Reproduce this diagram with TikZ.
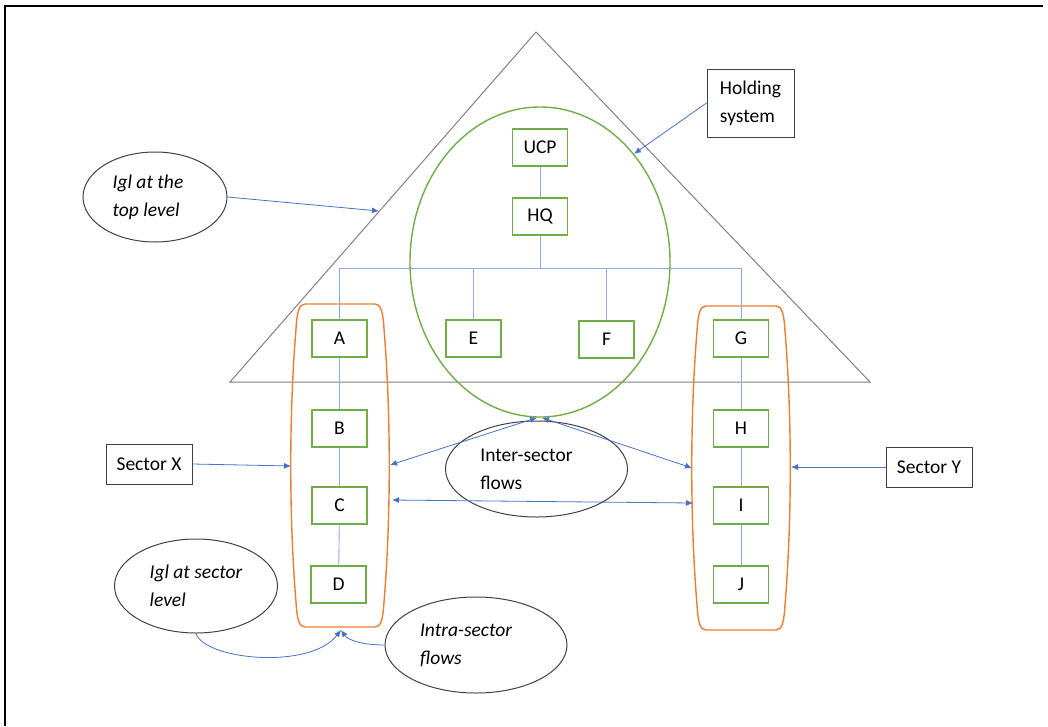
\documentclass[tikz,border=0pt]{standalone}
\usepackage{fontspec}
\setmainfont{Carlito}
\usetikzlibrary{shapes.geometric,arrows.meta}
\definecolor{trigray}{HTML}{808080}
\definecolor{olgray}{HTML}{404040}
\definecolor{grn}{HTML}{70AD47}
\definecolor{org}{HTML}{ED7D31}
\definecolor{treeblue}{HTML}{8FAADC}
\definecolor{arrblue}{HTML}{4472C4}

% rounded, slightly bulging hull around a column of units: centre x, top y, bottom y
\newcommand\drawhull[3]{%
  \draw[hull] ({#1-35},#2) -- ({#1+35},#2)
    .. controls ({#1+41},#2) and ({#1+43},{#2+8}) .. ({#1+44},{#2+25})
    .. controls ({#1+51},{#2+110}) and ({#1+51},{#3-110}) .. ({#1+44},{#3-25})
    .. controls ({#1+43},{#3-8}) and ({#1+41},#3) .. ({#1+35},#3)
    -- ({#1-35},#3)
    .. controls ({#1-41},#3) and ({#1-43},{#3-8}) .. ({#1-44},{#3-25})
    .. controls ({#1-51},{#3-110}) and ({#1-51},{#2+110}) .. ({#1-44},{#2+25})
    .. controls ({#1-43},{#2+8}) and ({#1-41},#2) .. cycle;}

\begin{document}
\begin{tikzpicture}[x=1pt,y=-1pt,
  font=\fontsize{19.5}{28}\selectfont,
  unit/.style={draw=grn,line width=1.4pt,fill=white,minimum width=55pt,minimum height=37pt,inner sep=0pt},
  callout/.style={draw=olgray,line width=1pt,fill=white,inner sep=0pt},
  bubble/.style={ellipse,draw=olgray,line width=1pt,inner sep=0pt},
  bubbletext/.style={align=left,font=\fontsize{19.5}{28}\selectfont\itshape},
  tree/.style={draw=treeblue,line width=0.9pt},
  flow/.style={draw=arrblue,line width=0.8pt,-{Latex[length=7pt,width=6pt]}},
  flowboth/.style={draw=arrblue,line width=0.8pt,{Latex[length=7pt,width=6pt]}-{Latex[length=7pt,width=6pt]}},
  hull/.style={draw=org,line width=1.4pt},
]
\useasboundingbox (0,0) rectangle (1048,726);

% page frame (top and left edges)
\draw[line width=2pt] (5,726) -- (5,6) -- (1043,6);

% group triangle
\draw[trigray,line width=1pt] (536,32) -- (870,382) -- (230,382) -- cycle;
\coordinate (triedge) at (379,211);

% holding system circle
\node[ellipse,draw=grn,line width=1.4pt,minimum width=260pt,minimum height=310pt,inner sep=0pt] (hold) at (540,262) {};

% sector hulls
\drawhull{340}{304}{627}
\drawhull{741}{306}{630}
\coordinate (hullXw) at (291,466);
\coordinate (hullXe) at (390,465);
\coordinate (hullXe2) at (392,500);
\coordinate (hullXs) at (341,630);
\coordinate (hullYw) at (692,468);
\coordinate (hullYw2) at (693,503);
\coordinate (hullYe) at (791,467);

% units
\node[unit] (UCP) at (540,147.5) {UCP};
\node[unit] (HQ) at (540,216.5) {HQ};
\node[unit] (A) at (339.5,338.5) {A};
\node[unit] (E) at (473.5,338.5) {E};
\node[unit] (F) at (606.5,339.5) {F};
\node[unit] (G) at (741,338.5) {G};
\node[unit] (B) at (339.5,428.5) {B};
\node[unit] (C) at (339.5,505.5) {C};
\node[unit] (D) at (338.5,584.5) {D};
\node[unit] (H) at (741,428.5) {H};
\node[unit] (I) at (741,505.5) {I};
\node[unit] (J) at (741,584.5) {J};

% ownership tree
\coordinate (bus) at (540,268);
\draw[tree] (UCP) -- (HQ);
\draw[tree] (HQ.south) -- (HQ.south |- bus);
\draw[tree] (A.north) -- (A.north |- bus) -- (G.north |- bus) -- (G.north);
\draw[tree] (E.north) -- (E.north |- bus);
\draw[tree] (F.north) -- (F.north |- bus);
\draw[tree] (A) -- (B);
\draw[tree] (B) -- (C);
\draw[tree] (C) -- (D);
\draw[tree] (G) -- (H);
\draw[tree] (H) -- (I);
\draw[tree] (I) -- (J);

% callouts
\node[callout,minimum width=87pt,minimum height=68pt,align=left] (holdbox) at (750.5,103) {Holding\\system};
\node[callout,minimum width=86pt,minimum height=40pt] (secX) at (149,464) {Sector X};
\node[callout,minimum width=86pt,minimum height=40pt] (secY) at (929,467) {Sector Y};

\node[bubble,minimum width=144pt,minimum height=90pt,
  label={[bubbletext,xshift=-7pt]center:Igl at the\\top level}] (topIgl) at (155,197) {};
\node[bubble,minimum width=163pt,minimum height=94pt,
  label={[bubbletext]center:Igl at sector\\level}] (secIgl) at (196,586) {};
\node[bubble,minimum width=182pt,minimum height=96pt,
  label={[align=left,xshift=-10pt]center:Inter-sector\\flows}] (inter) at (536.5,469) {};
\node[bubble,minimum width=182pt,minimum height=96pt,
  label={[bubbletext,xshift=-10pt]center:Intra-sector\\flows}] (intra) at (476,645) {};

% pointers
\draw[flow] (holdbox.west) -- (hold.49.5);
\draw[flow] (topIgl.east) -- (triedge);
\draw[flow] (secX.east) -- (hullXw);
\draw[flow] (secY.west) -- (hullYe);
\draw[flowboth] ([xshift=-3pt]hold.south) -- (hullXe);
\draw[flowboth] ([xshift=2pt]hold.south) -- (hullYw);
\draw[flowboth] (hullXe2) -- (hullYw2);
\draw[flow] (secIgl.south) .. controls (205,660) and (310,670) .. (hullXs);
\draw[flow] (intra.west) .. controls (362,645) and (348,640) .. (hullXs);
\end{tikzpicture}
\end{document}
